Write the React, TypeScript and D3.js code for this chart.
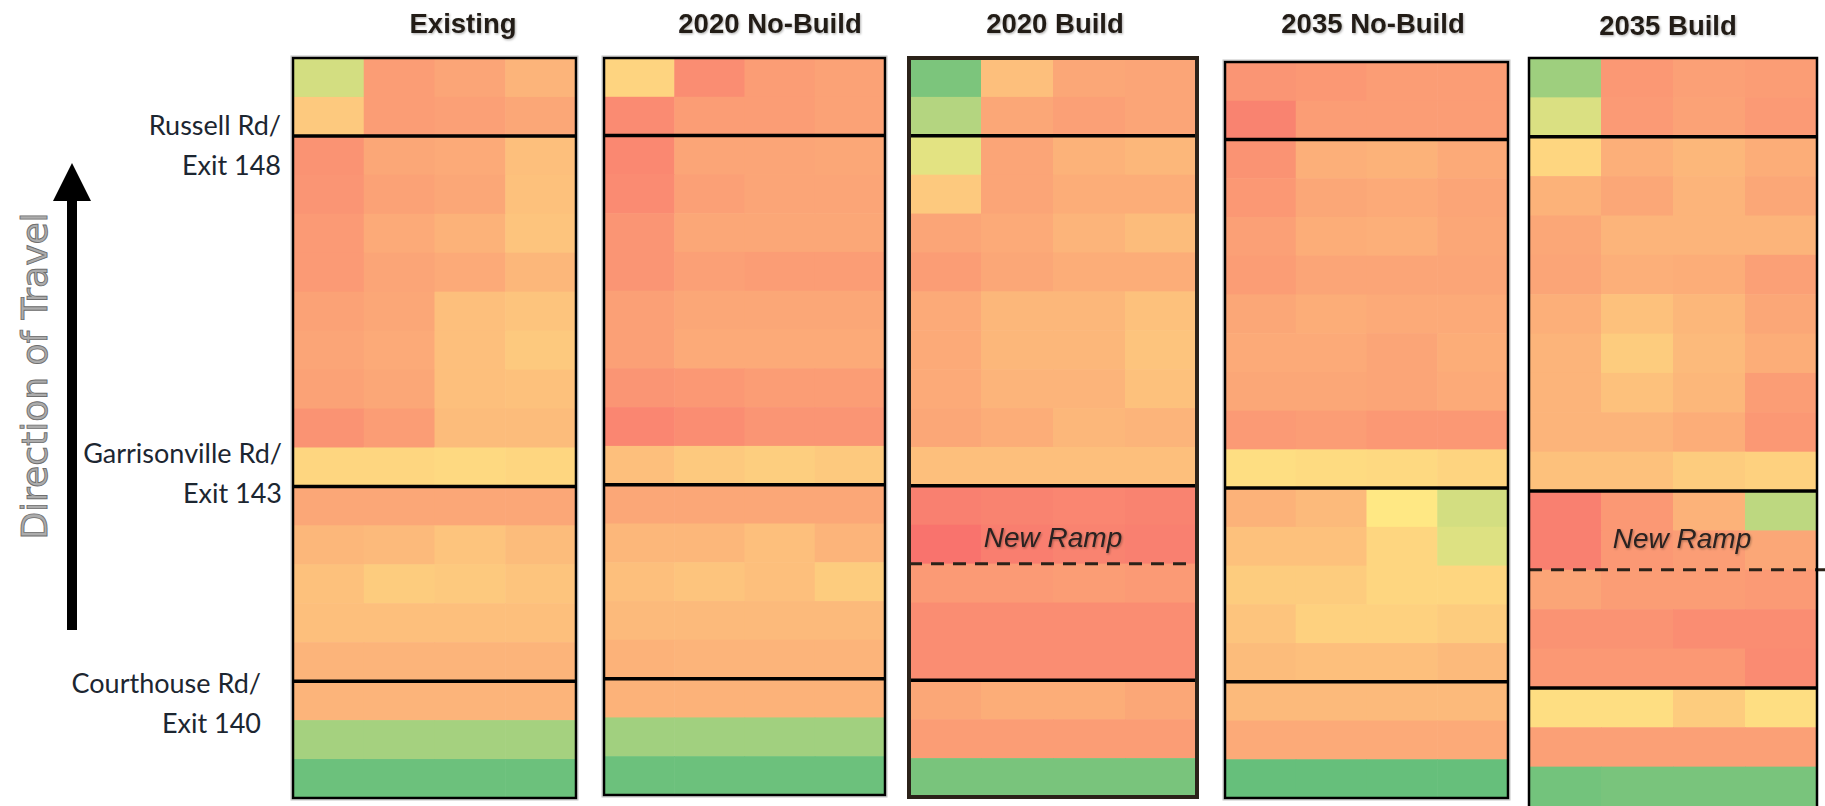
import React, { useEffect, useRef } from 'react';
import * as d3 from 'd3';

// scenario / lane / segment categories
const scenarios = ['Existing', '2020 No-Build', '2020 Build', '2035 No-Build', '2035 Build'];
const lanes = ['Lane 1', 'Lane 2', 'Lane 3', 'Lane 4'];
const segments = [
  'S01', 'S02', 'S03', 'S04', 'S05', 'S06', 'S07', 'S08', 'S09', 'S10',
  'S11', 'S12', 'S13', 'S14', 'S15', 'S16', 'S17', 'S18', 'S19',
];

// speed index per segment (top = downstream), 0 = red, 50 = yellow, 100 = green
const existing = [
  [64, 20, 23, 29], [37, 20, 21, 24],
  [16, 24, 25, 33], [17, 22, 24, 34], [19, 25, 28, 35], [19, 23, 25, 30], [22, 24, 33, 35],
  [23, 25, 33, 37], [22, 24, 33, 34], [16, 20, 32, 32], [42, 42, 43, 42],
  [24, 24, 24, 24], [30, 31, 35, 32], [34, 38, 37, 35], [33, 33, 33, 33], [29, 29, 29, 29],
  [29, 29, 29, 29], [79, 79, 79, 79], [97, 97, 97, 97],
];
const noBuild2020 = [
  [41, 14, 20, 22], [13, 20, 20, 22],
  [12, 23, 23, 24], [13, 21, 23, 23], [17, 24, 24, 24], [17, 21, 20, 20], [21, 24, 24, 24],
  [21, 25, 25, 25], [17, 18, 20, 20], [11, 14, 17, 17], [33, 37, 39, 37],
  [24, 24, 24, 24], [30, 30, 33, 29], [33, 35, 33, 38], [31, 31, 31, 31], [28, 29, 29, 29],
  [28, 28, 28, 28], [80, 80, 80, 80], [97, 97, 97, 97],
];
const build2020 = [
  [92, 33, 24, 23], [74, 24, 21, 23],
  [59, 23, 28, 30], [37, 23, 26, 26], [23, 25, 29, 32], [20, 24, 26, 26], [25, 30, 30, 34],
  [25, 30, 30, 35], [25, 29, 29, 34], [24, 26, 30, 29], [33, 33, 33, 33],
  [9, 10, 11, 10], [4, 8, 10, 9], [19, 19, 20, 19], [14, 14, 14, 14], [14, 14, 14, 14],
  [24, 26, 26, 24], [20, 20, 20, 20], [93, 93, 93, 93],
];
const noBuild2035 = [
  [17, 18, 20, 20], [10, 20, 20, 20],
  [16, 27, 28, 25], [18, 24, 25, 23], [21, 26, 27, 24], [20, 23, 23, 23], [24, 26, 25, 25],
  [25, 25, 23, 26], [24, 24, 23, 25], [19, 20, 18, 18], [45, 44, 43, 41],
  [28, 31, 49, 64], [34, 34, 42, 61], [38, 38, 42, 42], [35, 40, 40, 38], [32, 33, 33, 31],
  [31, 31, 31, 31], [25, 25, 25, 25], [99, 99, 99, 99],
];
const build2035 = [
  [81, 18, 21, 20], [62, 19, 22, 19],
  [42, 27, 30, 26], [28, 24, 29, 24], [24, 29, 29, 29], [23, 27, 26, 21], [27, 34, 30, 24],
  [29, 38, 31, 26], [29, 34, 30, 20], [29, 29, 26, 18], [34, 34, 38, 40],
  [9, 18, 28, 71], [9, 18, 20, 24], [23, 20, 20, 19], [16, 16, 14, 14], [18, 18, 18, 13],
  [45, 45, 38, 45], [21, 21, 21, 21], [95, 93, 93, 93],
];
const scenarioValues = [existing, noBuild2020, build2020, noBuild2035, build2035];

// interchanges: first segment after each one
const interchangeNames = ['Russell Rd/', 'Garrisonville Rd/', 'Courthouse Rd/'];
const exitNames = ['Exit 148', 'Exit 143', 'Exit 140'];
const interchangeBreaks = ['S03', 'S12', 'S17'];
const rampBreak = 'S14';
const rampScenarios = ['2020 Build', '2035 Build'];

// panel placement (pixels), one per scenario
const frames = [
  { x0: 293, x1: 576, y0: 58, y1: 798, titleX: 463, titleY: 33, border: 2.5, halo: true },
  { x0: 604, x1: 885, y0: 58, y1: 795, titleX: 770, titleY: 33, border: 2.5, halo: true },
  { x0: 909, x1: 1197, y0: 58, y1: 797, titleX: 1055, titleY: 33, border: 4, halo: false, rampX: 1053, rampDy: -17 },
  { x0: 1225, x1: 1508, y0: 62, y1: 798, titleX: 1373, titleY: 33, border: 2.5, halo: true },
  { x0: 1529, x1: 1817, y0: 58, y1: 806, titleX: 1668, titleY: 35, border: 2.5, halo: false, rampX: 1682, rampDy: -22, dashTo: 1825, open: true },
];
// label offsets from the interchange line (panel 1)
const labelPos = [
  { dy1: -1, dy2: 39, right: 281 },
  { dy1: -23, dy2: 17, right: 282 },
  { dy1: 12, dy2: 52, right: 261 },
];

const W = 1825, H = 806;

const App: React.FC = () => {
  const svgRef = useRef<SVGSVGElement>(null);

  useEffect(() => {
    if (!svgRef.current) return;
    const svg = d3.select(svgRef.current);
    svg.selectAll('*').remove();

    // excel style 3-colour scale
    const color = d3.scaleLinear<string>()
      .domain([0, 50, 100])
      .range(['#F8696B', '#FFEB84', '#63BE7B'])
      .interpolate(d3.interpolateRgb);

    const defs = svg.append('defs');
    const f = defs.append('filter').attr('id', 'shadow')
      .attr('x', '-10%').attr('y', '-30%').attr('width', '120%').attr('height', '160%');
    f.append('feDropShadow').attr('dx', 1).attr('dy', 1.2).attr('stdDeviation', 1)
      .attr('flood-color', '#000').attr('flood-opacity', 0.3);

    scenarios.forEach((name, pi) => {
      const fr = frames[pi];
      const vals = scenarioValues[pi];
      const x = d3.scaleBand<string>().domain(lanes).range([fr.x0, fr.x1]);
      const y = d3.scaleBand<string>().domain(segments).range([fr.y0, fr.y1]);
      const g = svg.append('g').attr('class', 'panel');

      const cells = segments.flatMap((s, si) => lanes.map((l, li) => ({ s, l, v: vals[si][li] })));
      g.selectAll('rect.cell').data(cells).enter().append('rect')
        .attr('class', 'cell')
        .attr('x', d => x(d.l)!)
        .attr('y', d => y(d.s)!)
        .attr('width', x.bandwidth() + 0.6)
        .attr('height', y.bandwidth() + 0.6)
        .attr('fill', d => color(d.v));

      // interchange lines
      g.selectAll('line.div').data(interchangeBreaks).enter().append('line')
        .attr('x1', fr.x0).attr('x2', fr.x1)
        .attr('y1', d => y(d)!).attr('y2', d => y(d)!)
        .attr('stroke', '#000').attr('stroke-width', 3.5);

      if (rampScenarios.includes(name)) {
        const ry = y(rampBreak)!;
        g.append('line')
          .attr('x1', fr.x0).attr('x2', fr.dashTo ?? fr.x1)
          .attr('y1', ry).attr('y2', ry)
          .attr('stroke', '#2b2219').attr('stroke-width', 3)
          .attr('stroke-dasharray', '13 9');
        g.append('text')
          .attr('x', fr.rampX!).attr('y', ry + (fr.rampDy ?? -18))
          .attr('text-anchor', 'middle')
          .style('font-family', 'Liberation Sans, Arial, sans-serif')
          .style('font-style', 'italic')
          .style('font-size', '28px')
          .attr('fill', '#2a2420')
          .attr('filter', 'url(#shadow)')
          .text('New Ramp');
      }

      if (fr.halo) {
        g.append('rect')
          .attr('x', fr.x0 - 2).attr('y', fr.y0 - 2)
          .attr('width', fr.x1 - fr.x0 + 4).attr('height', fr.y1 - fr.y0 + 4)
          .attr('fill', 'none').attr('stroke', '#c4c4c4').attr('stroke-width', 1);
      }
      g.append('rect')
        .attr('x', fr.x0).attr('y', fr.y0)
        .attr('width', fr.x1 - fr.x0).attr('height', fr.y1 - fr.y0 + (fr.open ? 10 : 0))
        .attr('fill', 'none')
        .attr('stroke', fr.border > 3 ? '#2b2219' : '#000')
        .attr('stroke-width', fr.border);

      svg.append('text')
        .attr('x', fr.titleX).attr('y', fr.titleY)
        .attr('text-anchor', 'middle')
        .style('font-family', 'Liberation Sans, Arial, sans-serif')
        .style('font-weight', 'bold')
        .style('font-size', '27.5px')
        .attr('fill', '#221c17')
        .attr('filter', 'url(#shadow)')
        .text(name);
    });

    // interchange labels, placed on panel 1's rows
    const y1 = d3.scaleBand<string>().domain(segments).range([frames[0].y0, frames[0].y1]);
    interchangeNames.forEach((nm, i) => {
      const by = y1(interchangeBreaks[i])!;
      const p = labelPos[i];
      [[nm, p.dy1], [exitNames[i], p.dy2]].forEach(([t, dy]) => {
        svg.append('text')
          .attr('x', p.right).attr('y', by + (dy as number))
          .attr('text-anchor', 'end')
          .style('font-family', 'Lato, "Open Sans", sans-serif')
          .style('font-size', '27px')
          .attr('fill', '#1c2631')
          .text(t as string);
      });
    });

    // direction arrow
    const ax = 72;
    svg.append('path')
      .attr('d', `M${ax},163 L${ax + 19},201 L${ax + 5},201 L${ax + 5},630 L${ax - 5},630 L${ax - 5},201 L${ax - 19},201 Z`)
      .attr('fill', '#000');

    svg.append('text')
      .attr('transform', 'translate(47,376) rotate(-90)')
      .attr('text-anchor', 'middle')
      .style('font-family', '"DejaVu Sans", Verdana, sans-serif')
      .style('font-size', '36px')
      .attr('fill', '#acacac')
      .attr('stroke', '#6e6e6e')
      .attr('stroke-width', 0.9)
      .text('Direction of Travel');
  }, []);

  return (
    <svg
      ref={svgRef}
      width={W}
      height={H}
      style={{ position: 'absolute', left: 0, top: 0, display: 'block', background: '#fff' }}
    />
  );
};

export default App;
